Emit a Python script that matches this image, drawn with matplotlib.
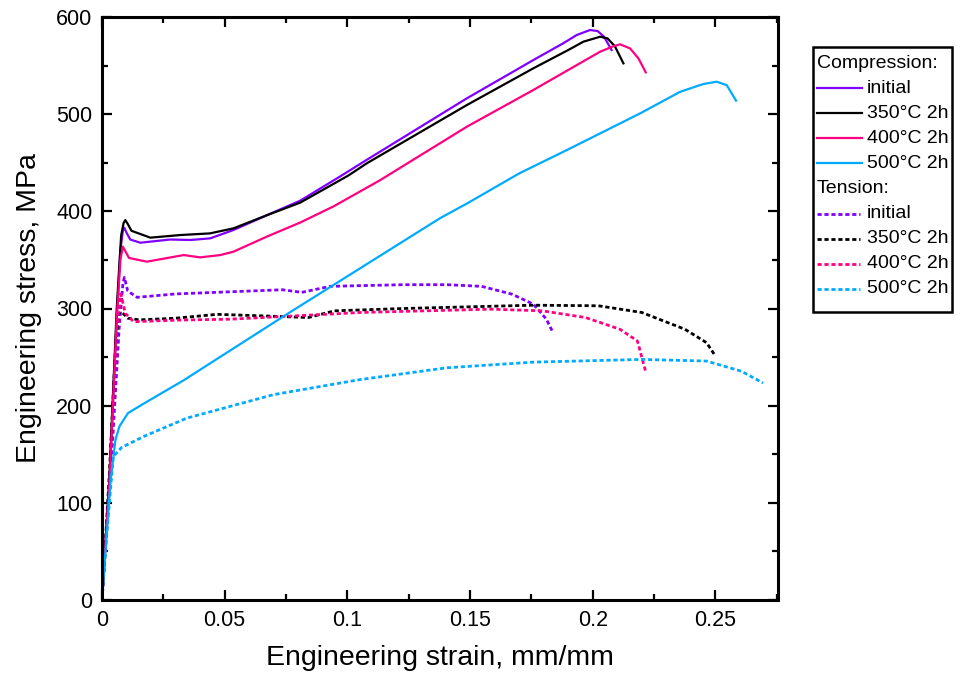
import matplotlib
matplotlib.use("Agg")
import matplotlib.pyplot as plt
from matplotlib.lines import Line2D
from matplotlib.patches import Rectangle
from matplotlib.ticker import MultipleLocator, FuncFormatter

plt.rcParams['font.family'] = ['Liberation Sans', 'DejaVu Sans']

# compression curves (strain, stress MPa)
comp_initial_x = [0, 0.003, 0.006, 0.0075, 0.0085, 0.0091, 0.0100, 0.0115, 0.0156, 0.0278, 0.036, 0.0441,
                  0.0536, 0.0672, 0.0808, 0.0971, 0.1079, 0.1487, 0.1758, 0.1880, 0.1935, 0.1989,
                  0.2020, 0.2045, 0.2077]
comp_initial_y = [0, 120, 290, 360, 380, 383, 378, 371, 367.7, 371, 370.5, 372.2,
                  380.8, 396, 411, 436, 453, 516.3, 555.7, 573, 581.5, 586.6,
                  585.5, 580, 566]

comp_350_x = [0, 0.003, 0.006, 0.0078, 0.0088, 0.0095, 0.0105, 0.012, 0.0197, 0.0319, 0.044, 0.0536,
              0.0672, 0.0808, 0.1005, 0.1079, 0.1487, 0.1758, 0.1900, 0.1962, 0.2030, 0.2060,
              0.2090, 0.2125]
comp_350_y = [0, 125, 300, 375, 388, 391, 387, 380, 372.9, 375.6, 377.3, 382.5,
              396, 409, 437, 449.4, 509.4, 547.2, 566, 574.6, 579.7, 578,
              570, 552.3]

comp_400_x = [0, 0.003, 0.006, 0.0075, 0.0085, 0.0095, 0.011, 0.0183, 0.0333, 0.040, 0.0482, 0.0536,
              0.0672, 0.0808, 0.0943, 0.1133, 0.1487, 0.1758, 0.2030, 0.2080, 0.2111, 0.2152,
              0.2186, 0.2216]
comp_400_y = [0, 120, 290, 350, 363.6, 359, 352, 348.2, 355, 352.6, 355, 358.5,
              374, 388.5, 405, 432, 487.1, 524.9, 564.3, 569.5, 571.9, 567.7,
              557.5, 543]

comp_500_x = [0, 0.002, 0.0035, 0.0055, 0.0071, 0.0106, 0.0176, 0.0332, 0.053, 0.0759, 0.1018,
              0.1378, 0.1487, 0.1700, 0.1894, 0.2193, 0.2356, 0.2450, 0.2505, 0.2546, 0.2584]
comp_500_y = [0, 70, 123, 165, 178.6, 192.4, 203, 226, 258, 295, 336,
              393, 408, 439, 463, 500.8, 523, 531, 533.4, 529.9, 513.9]

# tension curves
ten_initial_x = [0, 0.004, 0.007, 0.0085, 0.0091, 0.0105, 0.0143, 0.0300, 0.0523, 0.0735, 0.0814,
                 0.0929, 0.1229, 0.1406, 0.1547, 0.1670, 0.1758, 0.1811, 0.1838]
ten_initial_y = [0, 150, 280, 325, 332, 318, 311.5, 315, 317.2, 319.3, 316.6,
                 322.8, 324.5, 324.5, 322.8, 314.8, 304.5, 289, 275.2]

ten_350_x = [0, 0.003, 0.0055, 0.0068, 0.0082, 0.0105, 0.0152, 0.030, 0.047, 0.0735, 0.0841,
             0.0947, 0.1229, 0.1758, 0.2023, 0.22, 0.2376, 0.2464, 0.25]
ten_350_y = [0, 130, 260, 295, 296, 290, 288.3, 290, 294, 291.7, 290.7,
             297.6, 300, 303.4, 302.8, 295.9, 278.6, 264.8, 251]

ten_400_x = [0, 0.003, 0.006, 0.0077, 0.0095, 0.0129, 0.0300, 0.0523, 0.0841, 0.1053, 0.1583,
             0.1794, 0.1971, 0.2111, 0.2182, 0.2217]
ten_400_y = [0, 120, 280, 315, 295, 286.4, 288, 289, 293.1, 295.9, 299.3,
             297.6, 290.7, 278.6, 266.6, 233.8]

ten_500_x = [0, 0.002, 0.0046, 0.008, 0.017, 0.0346, 0.070, 0.1053, 0.1406, 0.1758, 0.22,
             0.2464, 0.2605, 0.2694]
ten_500_y = [0, 70, 147.6, 157, 168.3, 187.2, 211.4, 226.9, 239, 244.8, 247.6,
             245.9, 235.5, 223.4]

labels = ['initial', '350°C 2h', '400°C 2h', '500°C 2h']
colors = ['#7f00ff', '#000000', '#ff0080', '#00aaff']

comp = [(comp_initial_x, comp_initial_y), (comp_350_x, comp_350_y),
        (comp_400_x, comp_400_y), (comp_500_x, comp_500_y)]
ten = [(ten_initial_x, ten_initial_y), (ten_350_x, ten_350_y),
       (ten_400_x, ten_400_y), (ten_500_x, ten_500_y)]

dash = (0, (1.5, 1.0))

fig = plt.figure(figsize=(9.6, 6.9), dpi=100)
ax = fig.add_axes([102 / 960, 1 - 600 / 690, 676 / 960, 583 / 690])

for (x, y), c in zip(ten, colors):
    ax.plot(x, y, color=c, lw=2.0, linestyle=dash)
for (x, y), c in zip(comp, colors):
    ax.plot(x, y, color=c, lw=1.6)

ax.set_xlim(0, 0.2755)
ax.set_ylim(0, 600)
ax.xaxis.set_major_locator(MultipleLocator(0.05))
ax.xaxis.set_minor_locator(MultipleLocator(0.025))
ax.yaxis.set_major_locator(MultipleLocator(100))
ax.yaxis.set_minor_locator(MultipleLocator(50))
ax.xaxis.set_major_formatter(FuncFormatter(lambda v, p: ('%g' % round(v, 3))))

ax.tick_params(which='both', direction='in', top=True, right=True, labelsize=15.5)
ax.tick_params(which='major', length=7, width=1.6, pad=7)
ax.tick_params(which='minor', length=4, width=1.6)
for s in ax.spines.values():
    s.set_linewidth(2.2)

ax.set_xlabel('Engineering strain, mm/mm', fontsize=20.5, labelpad=10)
ax.set_ylabel('Engineering stress, MPa', fontsize=20.5, labelpad=10)

# legend drawn by hand in figure pixel space
def fx(px):
    return px / 960

def fy(py):
    return 1 - py / 690

fig.add_artist(Rectangle((fx(813), fy(312)), fx(952) - fx(813), fy(47) - fy(312),
                         transform=fig.transFigure, fill=False, lw=1.8, ec='black'))
rows = [63 + 25.1 * i for i in range(10)]
fig.text(fx(817), fy(rows[0]), 'Compression:', fontsize=14, va='center', ha='left')
fig.text(fx(817), fy(rows[5]), 'Tension:', fontsize=14, va='center', ha='left')
for i, (lab, c) in enumerate(zip(labels, colors)):
    yc = fy(rows[1 + i])
    fig.add_artist(Line2D([fx(817), fx(862)], [yc, yc], transform=fig.transFigure,
                          color=c, lw=1.6))
    fig.text(fx(867), yc, lab, fontsize=14, va='center', ha='left')
    yt = fy(rows[6 + i])
    fig.add_artist(Line2D([fx(817), fx(860)], [yt, yt], transform=fig.transFigure,
                          color=c, lw=2.0, linestyle=dash))
    fig.text(fx(867), yt, lab, fontsize=14, va='center', ha='left')

fig.savefig('out.png', dpi=100)
